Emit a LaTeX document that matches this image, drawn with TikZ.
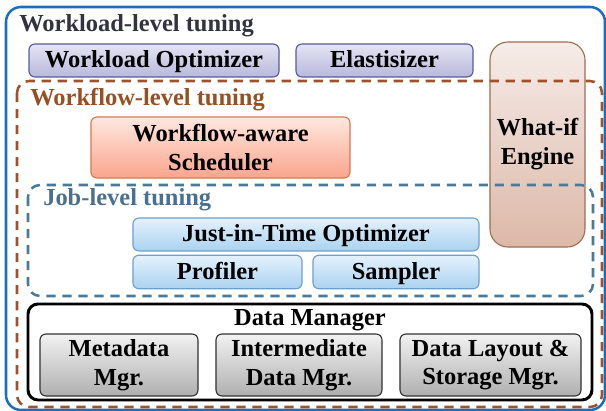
\documentclass[tikz,border=0pt]{standalone}
\usepackage{fontspec}
\setmainfont{Liberation Serif}
\usepackage{xcolor}
\usepackage{tikz}

\definecolor{outerblue}{RGB}{26,111,191}
\definecolor{wftitle}{RGB}{150,80,35}
\definecolor{wfdash}{RGB}{160,82,45}
\definecolor{jobtitle}{RGB}{74,112,144}
\definecolor{jobdash}{RGB}{74,122,154}
\definecolor{wltitle}{RGB}{50,50,64}
\definecolor{wlline}{RGB}{90,90,154}
\definecolor{wltop}{RGB}{228,228,244}
\definecolor{wlbot}{RGB}{184,184,220}
\definecolor{wiline}{RGB}{160,110,80}
\definecolor{witop}{RGB}{246,236,232}
\definecolor{wibot}{RGB}{220,184,168}
\definecolor{scline}{RGB}{220,120,80}
\definecolor{sctop}{RGB}{255,232,224}
\definecolor{scbot}{RGB}{250,165,140}
\definecolor{jbline}{RGB}{110,160,205}
\definecolor{jbtop}{RGB}{228,242,253}
\definecolor{jbbot}{RGB}{170,210,240}
\definecolor{dmline}{RGB}{50,50,50}
\definecolor{dmtop}{RGB}{242,242,242}
\definecolor{dmbot}{RGB}{175,175,175}

\begin{document}
\begin{tikzpicture}[x=0.025cm,y=-0.025cm,
    lbl/.style={font=\fontsize{17.4}{20.5}\selectfont\bfseries, inner sep=0pt},
    box/.style={lbl, draw, rounded corners=0.15cm, line width=0.8pt, align=center},
    onerow/.style={text height=12pt, text depth=2pt},
    wlbox/.style={box, onerow, draw=wlline, top color=wltop, bottom color=wlbot, minimum height=0.825cm},
    jbbox/.style={box, onerow, draw=jbline, top color=jbtop, bottom color=jbbot, minimum height=0.84cm},
    dmbox/.style={box, draw=dmline, top color=dmtop, bottom color=dmbot, minimum height=1.55cm},
    frame/.style={line width=1.8pt, dash pattern=on 0.23cm off 0.17cm, rounded corners=0.3cm}]
    \useasboundingbox (0,0) rectangle (606,411);

    % Workload level
    \draw[outerblue, line width=1.8pt, rounded corners=0.375cm] (6,7) rectangle (605,410);
    \node[lbl, wltitle, anchor=base west] (wltext) at (19,32) {Workload-level tuning};
    \node[wlbox, minimum width=6.25cm] (wlopt) at (154,60.5) {Workload Optimizer};
    \node[wlbox, minimum width=4.425cm] (elastic) at (384.5,60.5) {Elastisizer};
    \node[box, draw=wiline, top color=witop, bottom color=wibot, rounded corners=0.45cm,
        minimum width=2.375cm, minimum height=5.125cm] (whatif) at (537.5,144.5) {What-if\\Engine};

    % Workflow level
    \draw[frame, wfdash] (17,81) rectangle (602,407);
    \node[lbl, wftitle, anchor=base west] (wftext) at (30,106) {Workflow-level tuning};
    \node[box, draw=scline, top color=sctop, bottom color=scbot,
        minimum width=6.475cm, minimum height=1.525cm] (sched) at (220.5,147.5) {Workflow-aware\\Scheduler};

    % Job level
    \draw[frame, jobdash] (28,185) rectangle (593,296);
    \node[lbl, jobtitle, anchor=base west] (jbtext) at (43,206) {Job-level tuning};
    \node[jbbox, minimum width=8.65cm, minimum height=0.825cm] (jit) at (306,234.5) {Just-in-Time Optimizer};
    \node[jbbox, minimum width=4.225cm] (profiler) at (217.5,272) {Profiler};
    \node[jbbox, minimum width=4.15cm] (sampler) at (396,272) {Sampler};

    % Data manager
    \draw[line width=2.1pt, rounded corners=0.25cm] (28,304) rectangle (592,400);
    \node[lbl, anchor=base] (dmtext) at (310,326) {Data Manager};
    \node[dmbox, minimum width=3.95cm] (meta) at (119,365) {Metadata\\Mgr.};
    \node[dmbox, minimum width=4.15cm] (inter) at (299,365) {Intermediate\\Data Mgr.};
    \node[dmbox, minimum width=4.525cm] (layout) at (490.5,365) {Data Layout \&\\Storage Mgr.};
\end{tikzpicture}
\end{document}
